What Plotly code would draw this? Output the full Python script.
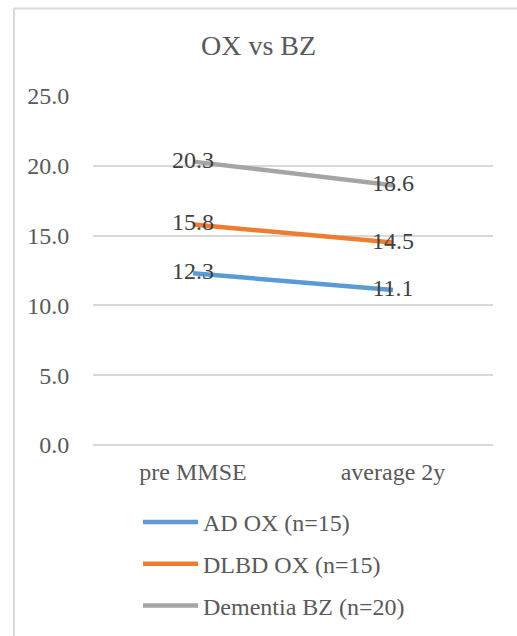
import plotly.graph_objects as go

# Chart data
categories = ["pre MMSE", "average 2y"]
series_names = ["AD OX (n=15)", "DLBD OX (n=15)", "Dementia BZ (n=20)"]
ad_ox = [12.3, 11.1]
dlbd_ox = [15.8, 14.5]
dementia_bz = [20.3, 18.6]
y_ticks = [0, 5, 10, 15, 20, 25]
y_tick_labels = ["0.0", "5.0", "10.0", "15.0", "20.0", "25.0"]

colors = ["#5B9BD5", "#ED7D31", "#A5A5A5"]
FONT = "Liberation Serif"

W, H = 517, 636
L, R, T, B = 93, 24, 96, 191
pw, ph = W - L - R, H - T - B

fig = go.Figure()
for i, (name, vals) in enumerate(zip(series_names, [ad_ox, dlbd_ox, dementia_bz])):
    fig.add_trace(go.Scatter(
        x=categories, y=vals, name=name, mode="lines+text",
        text=[f"{v:.1f}" for v in vals], textposition="middle center",
        textfont=dict(family=FONT, size=24, color="#404040"),
        line=dict(color=colors[i], width=4.5),
        legendgroup=f"g{i}", cliponaxis=False,
    ))


def px_to_paper_x(px):
    return (px - L) / pw


def px_to_paper_y(py):
    return 1 - (py - T) / ph


# chart-area border: only its left and top edges fall inside the page
border = dict(color="#D9D9D9", width=2)
fig.add_shape(type="line", xref="paper", yref="paper",
              x0=px_to_paper_x(14), x1=px_to_paper_x(14),
              y0=px_to_paper_y(H + 20), y1=px_to_paper_y(8.5),
              line=border, layer="below")
fig.add_shape(type="line", xref="paper", yref="paper",
              x0=px_to_paper_x(14), x1=px_to_paper_x(W + 20),
              y0=px_to_paper_y(8.5), y1=px_to_paper_y(8.5),
              line=border, layer="below")

fig.update_layout(
    width=W, height=H,
    margin=dict(l=L, r=R, t=T, b=B, pad=0, autoexpand=False),
    paper_bgcolor="white", plot_bgcolor="white",
    font=dict(family=FONT),
    title=dict(text="OX vs BZ", x=0.5, xanchor="center",
               y=1 - 45 / H, yanchor="middle",
               font=dict(family=FONT, size=28, color="#595959")),
    xaxis=dict(type="category", range=[-0.5, 1.5], showgrid=False,
               showline=False, zeroline=False,
               ticks="outside", ticklen=5, tickcolor="rgba(0,0,0,0)",
               tickfont=dict(family=FONT, size=24, color="#595959")),
    yaxis=dict(range=[0, 25], tickvals=y_ticks, ticktext=y_tick_labels,
               showgrid=True, gridcolor="#D9D9D9", gridwidth=1.5,
               zeroline=True, zerolinecolor="#D9D9D9", zerolinewidth=1.5,
               showline=False,
               ticks="outside", ticklen=18, tickcolor="rgba(0,0,0,0)",
               tickfont=dict(family=FONT, size=24, color="#595959")),
    showlegend=True,
    legend=dict(orientation="v", x=px_to_paper_x(138), xanchor="left",
                y=px_to_paper_y(500), yanchor="top",
                font=dict(family=FONT, size=24, color="#595959"),
                itemwidth=55, tracegroupgap=7.5, bgcolor="rgba(0,0,0,0)"),
)

fig.write_html("out.html")
